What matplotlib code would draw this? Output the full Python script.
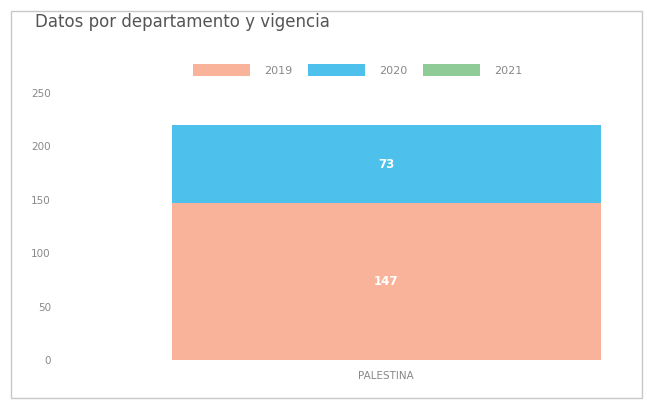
import numpy as np
import matplotlib.pyplot as plt
from matplotlib.patches import Patch, Rectangle

# datos
departamentos = ["PALESTINA"]
vigencias = ["2019", "2020", "2021"]
valores_2019 = [147]
valores_2020 = [73]
valores_2021 = [0]
colores = ["#F9B39B", "#4EC0EC", "#8FCB97"]

series = [valores_2019, valores_2020, valores_2021]

fig = plt.figure(figsize=(6.47, 4.01), dpi=100)
ax = fig.add_axes([62 / 647, 41 / 401, 568 / 647, 267 / 401])

# borde de la tarjeta
fig.patches.append(Rectangle((11 / 647, 3 / 401), 631 / 647, 387 / 401,
                             transform=fig.transFigure, fill=False,
                             edgecolor="#c8c8c8", linewidth=1))

x = np.arange(len(departamentos))
base = np.zeros(len(departamentos))
for nombre, vals, col in zip(vigencias, series, colores):
    vals = np.array(vals, dtype=float)
    ax.bar(x, vals, bottom=base, width=1.0, color=col, label=nombre)
    for xi, b, v in zip(x, base, vals):
        if v > 0:
            ax.text(xi, b + v / 2, str(int(v)), ha="center", va="center",
                    color="white", fontsize=8.5, fontweight="bold")
    base = base + vals

ax.set_xlim(-0.756, 0.568)
ax.set_ylim(0, 250)
ax.set_yticks([0, 50, 100, 150, 200, 250])
ax.set_xticks(x)
ax.set_xticklabels(departamentos)
ax.tick_params(axis="both", length=0, labelsize=7.5, labelcolor="#888888")
ax.tick_params(axis="y", pad=8)
ax.tick_params(axis="x", pad=8)
for s in ax.spines.values():
    s.set_visible(False)

handles = [Patch(facecolor=c, label=v) for v, c in zip(vigencias, colores)]
fig.legend(handles=handles, loc="center", bbox_to_anchor=(358 / 647, 1 - 70 / 401),
           ncol=3, frameon=False, fontsize=8, labelcolor="#888888",
           handlelength=5.1, handleheight=1.2, handletextpad=1.3, columnspacing=1.4)

fig.text(35 / 647, 1 - 22 / 401, "Datos por departamento y vigencia",
         fontsize=12, color="#555555", va="center", ha="left")

fig.savefig("out.png", dpi=100)
